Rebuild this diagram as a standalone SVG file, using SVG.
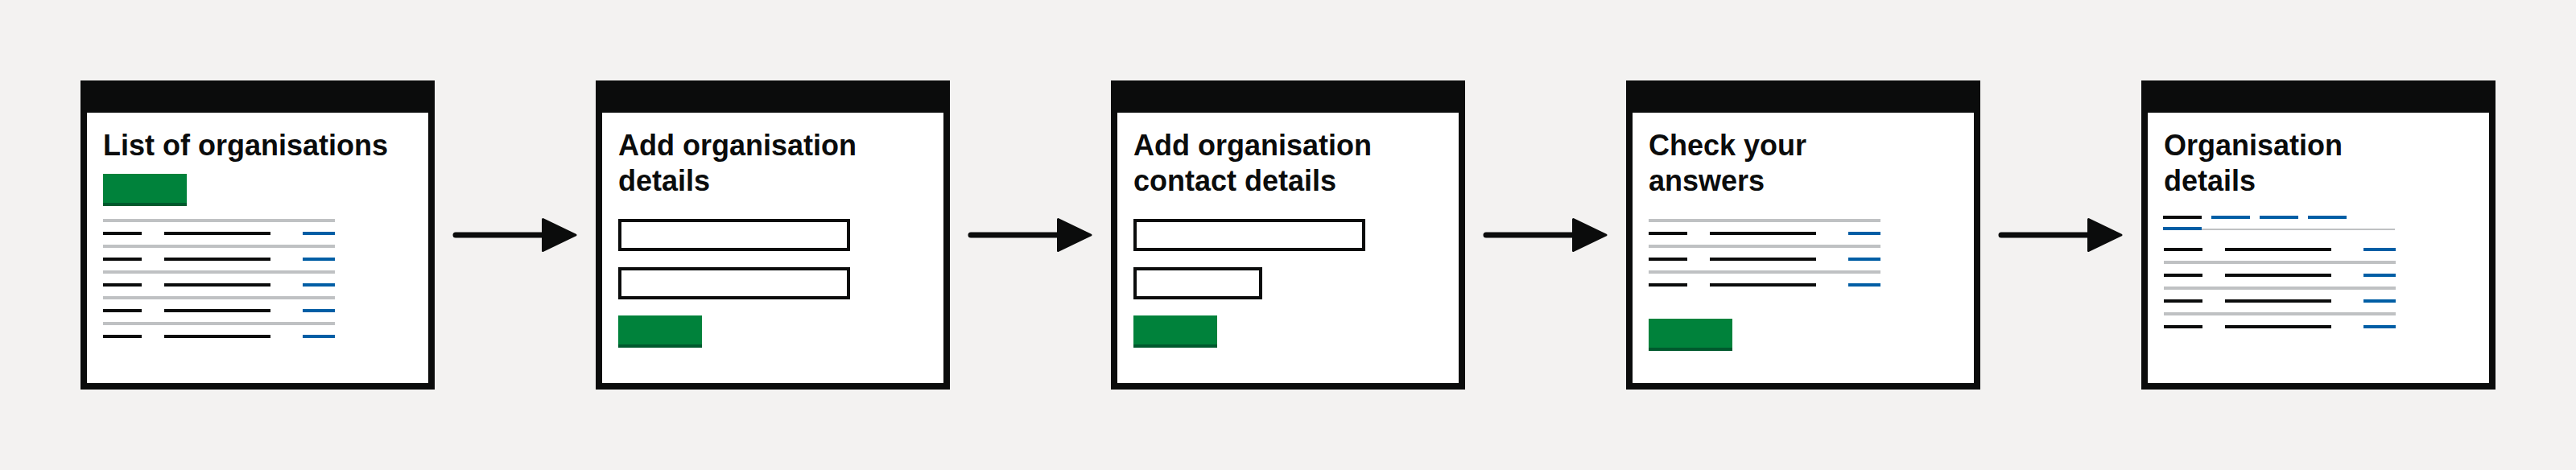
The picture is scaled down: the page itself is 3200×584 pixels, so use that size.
<svg xmlns="http://www.w3.org/2000/svg" xmlns:xlink="http://www.w3.org/1999/xlink" width="3200" height="584" viewBox="0 0 3200 584">
<style>
.bg{fill:#f3f2f1}
.frame{fill:#0b0c0c}
.page{fill:#ffffff}
.title{font-family:"Liberation Sans",Arial,sans-serif;font-weight:bold;font-size:36px;fill:#0b0c0c}
.btn{fill:#00823b}
.btnb{fill:#00592d}
.grey{fill:#bfc1c3}
.blk{fill:#0b0c0c}
.blue{fill:#005ea5}
.input{fill:#ffffff;stroke:#0b0c0c;stroke-width:4}
.conn{stroke:#0b0c0c;stroke-width:7;stroke-linecap:round;fill:none}
</style>
<defs>
<marker id="arrow" markerUnits="userSpaceOnUse" markerWidth="48" markerHeight="46" refX="2" refY="21" orient="auto" overflow="visible">
<path d="M1.5,1.5 L42,21 L1.5,40.5 Z" fill="#0b0c0c" stroke="#0b0c0c" stroke-width="3" stroke-linejoin="round"/>
</marker>
<g id="window">
<rect class="frame" x="0" y="0" width="440" height="384"/>
<rect class="page" x="8" y="40" width="424" height="336"/>
</g>
<g id="button">
<rect class="btn" x="0" y="0" width="104" height="40"/>
<rect class="btnb" x="0" y="36" width="104" height="4"/>
</g>
<g id="row">
<rect class="blk" x="0" y="0" width="48" height="4"/>
<rect class="blk" x="76" y="0" width="132" height="4"/>
<rect class="blue" x="248" y="0" width="40" height="4"/>
</g>
<rect id="rule" class="grey" x="0" y="0" width="288" height="4"/>
</defs>
<rect class="bg" x="0" y="0" width="3200" height="584"/>

<g id="node-list-of-organisations" transform="translate(100,100)">
<use xlink:href="#window"/>
<text class="title" x="28" y="93">List of organisations</text>
<use xlink:href="#button" x="28" y="116"/>
<use xlink:href="#rule" x="28" y="172"/>
<use xlink:href="#row" x="28" y="188"/>
<use xlink:href="#rule" x="28" y="204"/>
<use xlink:href="#row" x="28" y="220"/>
<use xlink:href="#rule" x="28" y="236"/>
<use xlink:href="#row" x="28" y="252"/>
<use xlink:href="#rule" x="28" y="268"/>
<use xlink:href="#row" x="28" y="284"/>
<use xlink:href="#rule" x="28" y="300"/>
<use xlink:href="#row" x="28" y="316"/>
</g>

<g id="node-add-organisation-details" transform="translate(740,100)">
<use xlink:href="#window"/>
<text class="title" x="28" y="93">Add organisation</text>
<text class="title" x="28" y="137">details</text>
<rect class="input" x="30" y="174" width="284" height="36"/>
<rect class="input" x="30" y="234" width="284" height="36"/>
<use xlink:href="#button" x="28" y="292"/>
</g>

<g id="node-add-organisation-contact-details" transform="translate(1380,100)">
<use xlink:href="#window"/>
<text class="title" x="28" y="93">Add organisation</text>
<text class="title" x="28" y="137">contact details</text>
<rect class="input" x="30" y="174" width="284" height="36"/>
<rect class="input" x="30" y="234" width="156" height="36"/>
<use xlink:href="#button" x="28" y="292"/>
</g>

<g id="node-check-your-answers" transform="translate(2020,100)">
<use xlink:href="#window"/>
<text class="title" x="28" y="93">Check your</text>
<text class="title" x="28" y="137">answers</text>
<use xlink:href="#rule" x="28" y="172"/>
<use xlink:href="#row" x="28" y="188"/>
<use xlink:href="#rule" x="28" y="204"/>
<use xlink:href="#row" x="28" y="220"/>
<use xlink:href="#rule" x="28" y="236"/>
<use xlink:href="#row" x="28" y="252"/>
<use xlink:href="#button" x="28" y="296"/>
</g>

<g id="node-organisation-details" transform="translate(2660,100)">
<use xlink:href="#window"/>
<text class="title" x="28" y="93">Organisation</text>
<text class="title" x="28" y="137">details</text>
<rect class="blk" x="27" y="168" width="48" height="4"/>
<rect class="blue" x="87" y="168" width="48" height="4"/>
<rect class="blue" x="147" y="168" width="48" height="4"/>
<rect class="blue" x="207" y="168" width="48" height="4"/>
<rect class="grey" x="75" y="184" width="240" height="2"/>
<rect class="blue" x="27" y="182" width="48" height="4"/>
<use xlink:href="#row" x="28" y="208"/>
<use xlink:href="#rule" x="28" y="224"/>
<use xlink:href="#row" x="28" y="240"/>
<use xlink:href="#rule" x="28" y="256"/>
<use xlink:href="#row" x="28" y="272"/>
<use xlink:href="#rule" x="28" y="288"/>
<use xlink:href="#row" x="28" y="304"/>
</g>

<g id="connectors">
<line class="conn" x1="566" y1="292" x2="675" y2="292" marker-end="url(#arrow)"/>
<line class="conn" x1="1206" y1="292" x2="1315" y2="292" marker-end="url(#arrow)"/>
<line class="conn" x1="1846" y1="292" x2="1955" y2="292" marker-end="url(#arrow)"/>
<line class="conn" x1="2486" y1="292" x2="2595" y2="292" marker-end="url(#arrow)"/>
</g>
</svg>
